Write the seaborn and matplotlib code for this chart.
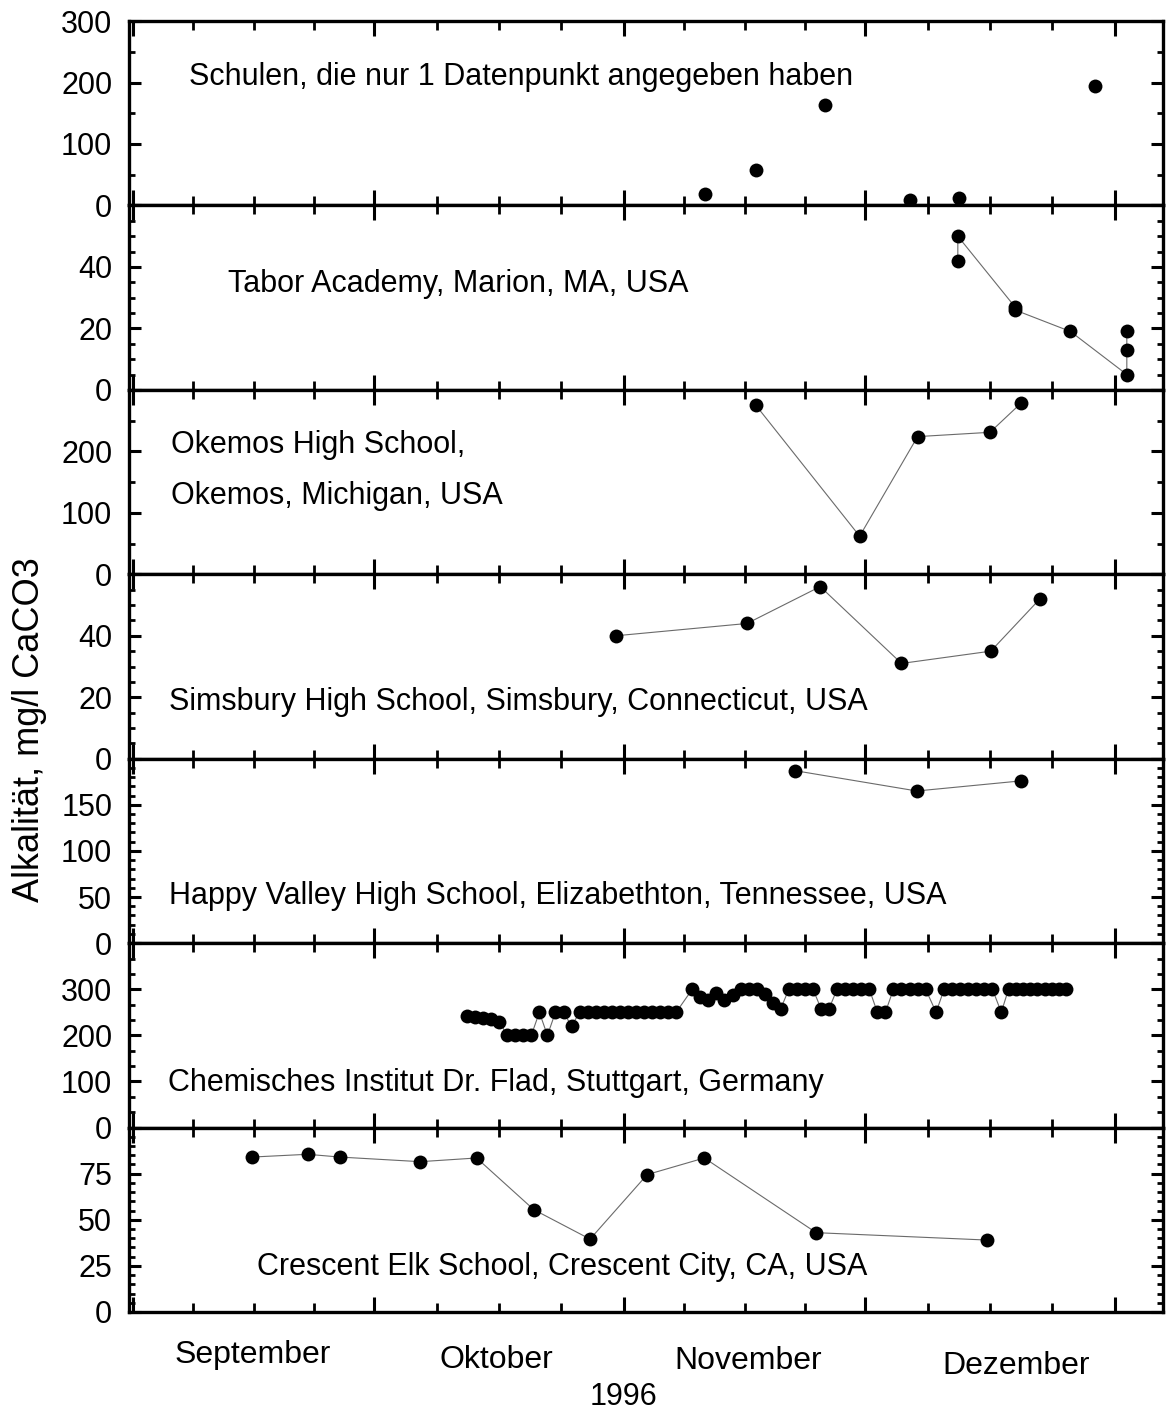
import matplotlib
matplotlib.use("Agg")
import matplotlib.pyplot as plt
from matplotlib.ticker import AutoMinorLocator, FixedLocator
import seaborn as sns

# ---------------- data (x = days since 1 Sep 1996) ----------------
single_days = [71.1, 77.4, 86.0, 96.6, 102.7, 119.6]
single_vals = [18, 57, 164, 9, 12, 195]

tabor_days = [102.5, 102.5, 109.6, 109.6, 116.5, 123.5, 123.5, 123.5]
tabor_vals = [42, 50, 27, 26, 19, 5, 13, 19]

okemos_days = [77.4, 90.3, 97.5, 106.5, 110.4]
okemos_vals = [275, 62, 224, 231, 279]

simsbury_days = [60.0, 76.3, 85.4, 95.5, 106.6, 112.7]
simsbury_vals = [40, 44, 56, 31, 35, 52]

happy_days = [82.3, 97.4, 110.4]
happy_vals = [187, 165, 176]

flad_days = [41.5, 42.5, 43.5, 44.5, 45.5,
             46.5, 47.5, 48.5, 49.5,
             50.5, 51.5, 52.5, 53.5, 54.5,
             55.5, 56.5, 57.5, 58.5, 59.5, 60.5, 61.5, 62.5, 63.5, 64.5, 65.5, 66.5, 67.5,
             69.5, 70.5, 71.5, 72.5, 73.5, 74.5, 75.5, 76.5, 77.5, 78.5, 79.5, 80.5,
             81.5, 82.5, 83.5, 84.5,
             85.5, 86.5,
             87.5, 88.5, 89.5, 90.5, 91.5,
             92.5, 93.5,
             94.5, 95.5, 96.5, 97.5, 98.5,
             99.8,
             100.8, 101.8, 102.8, 103.8, 104.8, 105.8, 106.8,
             107.9,
             108.8, 109.7, 110.6, 111.5, 112.4, 113.3, 114.2, 115.1, 116.0]
flad_vals = [241, 240, 238, 235, 230,
             200, 200, 200, 200,
             250, 200, 250, 250, 220,
             250, 250, 250, 250, 250, 250, 250, 250, 250, 250, 250, 250, 250,
             300, 284, 277, 292, 277, 288, 300, 300, 300, 290, 270, 258,
             300, 300, 300, 300,
             258, 258,
             300, 300, 300, 300, 300,
             250, 250,
             300, 300, 300, 300, 300,
             250,
             300, 300, 300, 300, 300, 300, 300,
             250,
             300, 300, 300, 300, 300, 300, 300, 300, 300]

crescent_days = [14.8, 21.7, 25.7, 35.7, 42.7, 49.8, 56.8, 63.9, 71.0, 84.9, 106.1]
crescent_vals = [84, 85.5, 84, 81.5, 83.5, 55.5, 39.5, 74.5, 83.5, 43, 39]

panel_titles = [
    ["Schulen, die nur 1 Datenpunkt angegeben haben"],
    ["Tabor Academy, Marion, MA, USA"],
    ["Okemos High School,", "Okemos, Michigan, USA"],
    ["Simsbury High School, Simsbury, Connecticut, USA"],
    ["Happy Valley High School, Elizabethton, Tennessee, USA"],
    ["Chemisches Institut Dr. Flad, Stuttgart, Germany"],
    ["Crescent Elk School, Crescent City, CA, USA"],
]
month_names = ["September", "Oktober", "November", "Dezember"]
month_starts = [0, 30, 61, 91, 122]
month_lengths = [30, 31, 30, 31]
year_label = "1996"
y_label = "Alkalität, mg/l CaCO3"

# ---------------- styling ----------------
sns.set_style("ticks")
plt.rcParams["font.family"] = ["Liberation Sans", "DejaVu Sans"]
for key in ["text.color", "axes.labelcolor", "xtick.color", "ytick.color",
            "axes.edgecolor"]:
    plt.rcParams[key] = "black"

series = [
    (single_days, single_vals, False),
    (tabor_days, tabor_vals, True),
    (okemos_days, okemos_vals, True),
    (simsbury_days, simsbury_vals, True),
    (happy_days, happy_vals, True),
    (flad_days, flad_vals, True),
    (crescent_days, crescent_vals, True),
]
ylims = [300, 60, 300, 60, 200, 400, 100]
majors = [100, 20, 100, 20, 50, 100, 25]
minor_div = [2, 4, 2, 4, 5, 3, 5]
text_pos = [[(0.058, 0.694)], [(0.096, 0.575)], [(0.041, 0.70), (0.041, 0.423)],
            [(0.039, 0.309)], [(0.039, 0.255)], [(0.038, 0.239)], [(0.124, 0.244)]]

fig, axes = plt.subplots(7, 1, figsize=(11.67, 14.13), dpi=100, sharex=True,
                         gridspec_kw=dict(hspace=0))
fig.subplots_adjust(left=0.1105, right=0.9966, top=0.9851, bottom=0.0715)

minor_x = []
for s, L in zip(month_starts[:-1], month_lengths):
    minor_x += [s + L * 0.25, s + L * 0.5, s + L * 0.75]

for i, ax in enumerate(axes):
    d, v, connect = series[i]
    if connect:
        sns.lineplot(x=d, y=v, ax=ax, sort=False, estimator=None,
                     color="#6a6a6a", linewidth=0.8, zorder=2)
    sns.scatterplot(x=d, y=v, ax=ax, color="black", s=100, edgecolor="black",
                    linewidth=0, zorder=3, clip_on=False)
    ax.set_ylim(0, ylims[i])
    ax.set_xlim(-0.5, 128.0)
    ticks = list(range(0, ylims[i] + 1, majors[i]))
    ax.yaxis.set_major_locator(FixedLocator(ticks))
    labels = [str(t) for t in ticks]
    if i > 0:
        labels[-1] = ""
    ax.set_yticklabels(labels)
    ax.yaxis.set_minor_locator(AutoMinorLocator(minor_div[i]))
    ax.xaxis.set_major_locator(FixedLocator(month_starts))
    ax.xaxis.set_minor_locator(FixedLocator(minor_x))
    ax.tick_params(axis="x", which="both", direction="in", top=True, bottom=True,
                   labelbottom=False, color="black")
    ax.tick_params(axis="x", which="major", length=11, width=2.2)
    ax.tick_params(axis="x", which="minor", length=6.5, width=2.0)
    ax.tick_params(axis="y", which="both", direction="in", left=True, right=True,
                   labelsize=22, pad=12, color="black", labelcolor="black")
    ax.tick_params(axis="y", which="major", length=8.5, width=2.2)
    ax.tick_params(axis="y", which="minor", length=4.5, width=2.0)
    for sp in ax.spines.values():
        sp.set_visible(True)
        sp.set_linewidth(2.4)
        sp.set_color("black")
    ax.set_xlabel("")
    ax.set_ylabel("")
    for line_text, (tx, ty) in zip(panel_titles[i], text_pos[i]):
        ax.text(tx, ty, line_text, transform=ax.transAxes, fontsize=22,
                ha="left", va="center", color="black")

# month labels below the last panel
last = axes[-1]
month_centers = [14.9, 45.1, 76.4, 109.7]
month_y = [-0.233, -0.260, -0.266, -0.293]
trans = last.get_xaxis_transform()
for name, xc, yy in zip(month_names, month_centers, month_y):
    last.text(xc, yy, name, transform=trans, ha="center", va="center",
              fontsize=23, color="black")
last.text(60.9, -0.461, year_label, transform=trans, ha="center", va="center",
          fontsize=22, color="black")

fig.text(30 / 1167, 1 - 730 / 1413, y_label, rotation=90, ha="center",
         va="center", fontsize=26, color="black")

fig.savefig("out.png", dpi=100)
